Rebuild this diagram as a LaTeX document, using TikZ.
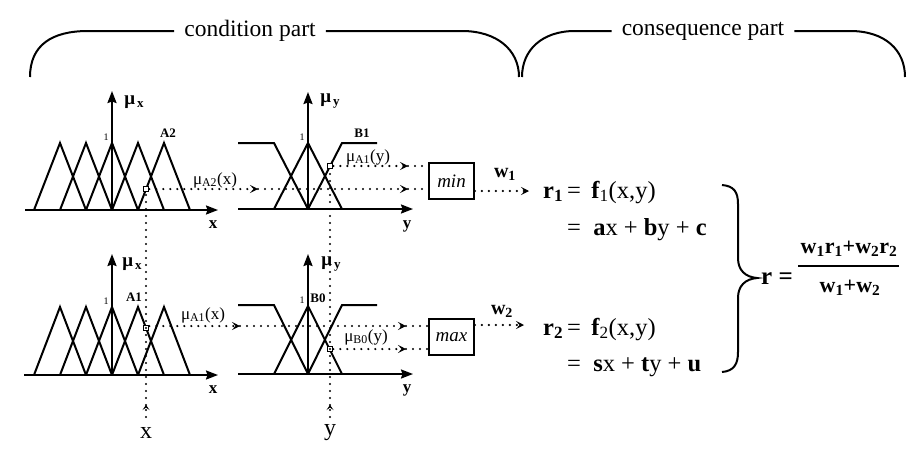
\documentclass[tikz,border=0pt]{standalone}
\usepackage{fontspec}
\setmainfont{Liberation Serif}
\usetikzlibrary{arrows.meta}
\newcommand{\fsz}[1]{\fontsize{#1}{#1}\selectfont}
\tikzset{
  graphline/.style={line width=2pt, line join=miter},
  axisline/.style={line width=2pt, -{Stealth[length=12pt,width=9pt,inset=1.5pt]}},
  dots/.style={line width=2.4pt, line cap=round, dash pattern=on 0pt off 7pt},
  dotarrow/.style={dots, -{Stealth[length=8pt,width=8pt,inset=3.5pt]}},
  uparrow/.style={dots, -{Stealth[length=5pt,width=7pt,inset=2.5pt]}},
  marker/.style={draw, line width=1.1pt, fill=white, minimum size=5.5pt, inner sep=0pt},
  opbox/.style={draw, line width=1.6pt, minimum width=45pt, minimum height=36pt, inner sep=0pt, font=\fsz{19}\itshape},
  brace/.style={line width=2pt},
  parttext/.style={font=\fsz{23.5}, inner sep=10pt},
  mulabel/.style={font=\fsz{19}\bfseries, inner sep=0pt},
  onelabel/.style={font=\fsz{10}, inner sep=0pt},
  setlabel/.style={font=\fsz{13}\bfseries, inner sep=0pt},
  axlabel/.style={font=\fsz{17}\bfseries, inner sep=0pt},
  memlabel/.style={font=\fsz{17}, inner sep=0pt},
  inlabel/.style={font=\fsz{24}, inner sep=0pt},
  wlabel/.style={font=\fsz{20}\bfseries, inner sep=0pt},
  eqtext/.style={font=\fsz{24.5}, inner sep=0pt, anchor=base west},
}
\begin{document}
\begin{tikzpicture}[x=1pt,y=-1pt]
\useasboundingbox (0,0) rectangle (912,453);
\fill[white] (0,0) rectangle (912,453);

% ---------- top braces ----------
\node[parttext] (cond) at (250,31) {condition part};
\node[parttext] (cons) at (703,31) {consequence part};
\coordinate (c1) at (30,77);
\coordinate (c2) at (519,77);
\coordinate (c3) at (522,77);
\coordinate (c4) at (905,77);
\draw[brace] (c1) .. controls (30,45) and (52,31) .. (88,31) -- (cond.west);
\draw[brace] (cond.east) -- (462,31) .. controls (497,31) and (519,50) .. (c2);
\draw[brace] (c3) .. controls (522,50) and (542,31) .. (575,31) -- (cons.west);
\draw[brace] (cons.east) -- (850,31) .. controls (885,31) and (905,50) .. (c4);

% ---------- upper left graph (x, A2) ----------
\coordinate (ULo) at (112,210);
\coordinate (ULxe) at (218,210);
\coordinate (ULxs) at (25,210);
\coordinate (ULyt) at (112,91);
\foreach \p in {60,86,112,138,164}
  \draw[graphline] (\p-26,210) -- (\p,143) -- (\p+26,210);
\draw[axisline] (ULxs) -- (ULxe);
\draw[axisline] (ULo) -- (ULyt);
\node[mulabel] (ULmu) at (134,102) {μ\raisebox{-3pt}{\fsz{13}\,x}};
\node[onelabel] (ULone) at (106,137) {1};
\node[setlabel] (ULset) at (168,133) {A2};
\node[axlabel] (ULxl) at (213,225) {x};
\node[memlabel] (ULmem) at (215,180) {μ\textsubscript{A2}(x)};

% ---------- upper middle graph (y, B1) ----------
\coordinate (UMo) at (308,209);
\draw[graphline] (238,143) -- (274,143) -- (308,209);
\draw[graphline] (274,209) -- (308,143) -- (342,209);
\draw[graphline] (308,209) -- (342,143) -- (377,143);
\coordinate (UMxs) at (238,209);
\coordinate (UMxe) at (413,209);
\coordinate (UMyt) at (308,92);
\draw[axisline] (UMxs) -- (UMxe);
\draw[axisline] (UMo) -- (UMyt);
\node[mulabel] (UMmu) at (330,101) {μ\raisebox{-3pt}{\fsz{13}\,y}};
\node[onelabel] (UMone) at (302,137) {1};
\node[setlabel] (UMset) at (362,133) {B1};
\node[axlabel] (UMyl) at (407,226) {y};
\node[memlabel] (UMmem) at (368,157) {μ\textsubscript{A1}(y)};

% ---------- lower left graph (x, A1) ----------
\coordinate (LLo) at (112,375);
\foreach \p in {60,86,112,138,164}
  \draw[graphline] (\p-26,375) -- (\p,307) -- (\p+26,375);
\coordinate (LLxs) at (24,375);
\coordinate (LLxe) at (218,375);
\coordinate (LLyt) at (112,254);
\draw[axisline] (LLxs) -- (LLxe);
\draw[axisline] (LLo) -- (LLyt);
\node[mulabel] (LLmu) at (132,264) {μ\raisebox{-3pt}{\fsz{13}\,x}};
\node[onelabel] (LLone) at (106,301) {1};
\node[setlabel] (LLset) at (134,297) {A1};
\node[axlabel] (LLxl) at (213,390) {x};
\node[memlabel] (LLmem) at (203,315) {μ\textsubscript{A1}(x)};

% ---------- lower middle graph (y, B0) ----------
\coordinate (LMo) at (308,374);
\draw[graphline] (238,305) -- (274,305) -- (308,374);
\draw[graphline] (274,374) -- (308,306) -- (342,374);
\draw[graphline] (308,374) -- (342,305) -- (377,305);
\coordinate (LMxs) at (238,374);
\coordinate (LMxe) at (413,374);
\coordinate (LMyt) at (308,254);
\draw[axisline] (LMxs) -- (LMxe);
\draw[axisline] (LMo) -- (LMyt);
\node[mulabel] (LMmu) at (331,264) {μ\raisebox{-3pt}{\fsz{13}\,y}};
\node[onelabel] (LMone) at (302,300) {1};
\node[setlabel] (LMset) at (318,298) {B0};
\node[axlabel] (LMyl) at (407,390) {y};
\node[memlabel] (LMmem) at (366,337) {μ\textsubscript{B0}(y)};

% ---------- operator boxes ----------
\node[opbox] (minb) at (451.5,181) {min};
\node[opbox] (maxb) at (451.5,337) {max};

% ---------- inputs ----------
\node[inlabel] (xin) at (146,433) {x};
\node[inlabel] (yin) at (330,433) {y};
\coordinate (xa) at (146,417);
\coordinate (xb) at (146,405);
\coordinate (ya) at (330,417);
\coordinate (yb) at (330,405);

% markers
\node[marker] (mA2) at (146,189) {};
\node[marker] (mB1) at (330,166) {};
\node[marker] (mA1) at (146,328) {};
\node[marker] (mB0) at (330,349) {};

% vertical dotted inputs
\draw[uparrow] (xa) -- (xb);
\draw[dots] (xb) -- (mA2.south);
\draw[uparrow] (ya) -- (yb);
\draw[dots] (yb) -- (mB1.south);

% horizontal dotted lines, row 1
\coordinate (r1a) at (258,189);
\coordinate (r1b) at (408,189);
\coordinate (r1c) at (408,166);
\draw[dotarrow] (mA2.east) -- (r1a);
\draw[dotarrow] (r1a) -- (r1b);
\draw[dots] (r1b) -- (minb.west |- r1b);
\draw[dotarrow] (mB1.east) -- (r1c);
\draw[dots] (r1c) -- (minb.west |- r1c);

% row 2
\coordinate (r2a) at (240,326);
\coordinate (r2b) at (406,326);
\coordinate (r2c) at (406,349);
\draw[dotarrow] (mA1.east |- r2a) -- (r2a);
\draw[dotarrow] (r2a) -- (r2b);
\draw[dots] (r2b) -- (maxb.west |- r2b);
\draw[dotarrow] (mB0.east) -- (r2c);
\draw[dots] (r2c) -- (maxb.west |- r2c);

% outputs
\coordinate (w1e) at (529,191);
\coordinate (w2e) at (524,325);
\draw[dotarrow] (minb.east |- w1e) -- (w1e);
\draw[dotarrow] (maxb.east |- w2e) -- (w2e);
\node[wlabel] (w1) at (505,174) {w\textsubscript{1}};
\node[wlabel] (w2) at (502,311) {w\textsubscript{2}};

% ---------- equations ----------
\node[eqtext] (eq1) at (543,198) {\textbf{r}\textsubscript{\textbf{1}}\,=\,\ \textbf{f}\textsubscript{1}(x,y)};
\node[eqtext] (eq1b) at (567,235) {=\ \ \textbf{a}x + \textbf{b}y + \textbf{c}};
\node[eqtext] (eq2) at (543,335) {\textbf{r}\textsubscript{\textbf{2}}\,=\,\ \textbf{f}\textsubscript{2}(x,y)};
\node[eqtext] (eq2b) at (567,371) {=\ \ \textbf{s}x + \textbf{t}y + \textbf{u}};

% big brace
\coordinate (bt) at (722,185);
\coordinate (bb) at (722,372);
\coordinate (btip) at (757,278);
\draw[brace] (bt) .. controls (734,186) and (738,192) .. (738,204) -- (738,258)
  .. controls (738,270) and (745,277) .. (btip)
  .. controls (745,279) and (738,286) .. (738,298) -- (738,352)
  .. controls (738,364) and (734,371) .. (bb);

\node[font=\fsz{25}\bfseries, inner sep=0pt, anchor=west] (req) at (761,279) {r =};
\node[font=\fsz{22}\bfseries, inner sep=0pt] (num) at (849,249) {w\textsubscript{1}r\textsubscript{1}+w\textsubscript{2}r\textsubscript{2}};
\node[font=\fsz{22}\bfseries, inner sep=0pt] (den) at (850,288) {w\textsubscript{1}+w\textsubscript{2}};
\coordinate (fbl) at (798,266);
\coordinate (fbr) at (899,266);
\draw[line width=1.8pt] (fbl) -- (fbr);
\end{tikzpicture}
\end{document}
